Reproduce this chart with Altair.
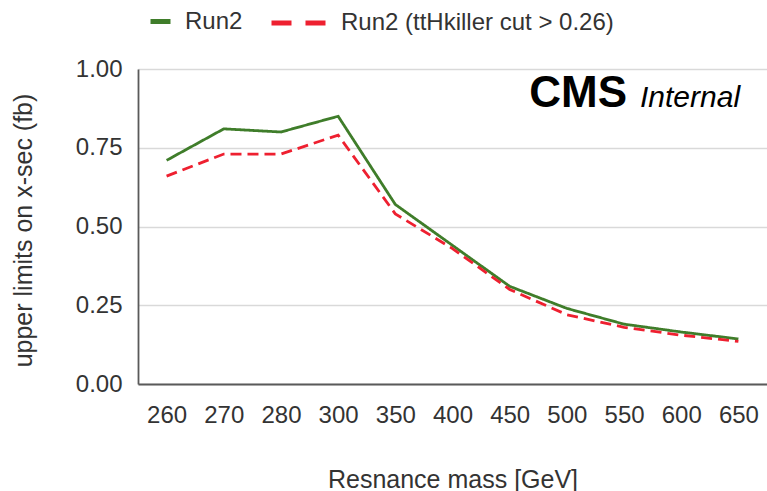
import altair as alt
import pandas as pd

# Resonance mass points (GeV) and expected upper limits (fb)
masses = ["260", "270", "280", "300", "350", "400", "450", "500", "550", "600", "650"]
run2 = [0.71, 0.81, 0.80, 0.85, 0.57, 0.44, 0.31, 0.24, 0.19, 0.165, 0.143]
run2_cut = [0.66, 0.73, 0.73, 0.79, 0.54, 0.43, 0.30, 0.22, 0.18, 0.155, 0.135]

series_names = ["Run2", "Run2 (ttHkiller cut > 0.26)"]
series_colors = ["#3f7d2a", "#ee2030"]

rows = []
for m, a, b in zip(masses, run2, run2_cut):
    rows.append({"mass": m, "limit": a, "series": series_names[0]})
    rows.append({"mass": m, "limit": b, "series": series_names[1]})
df = pd.DataFrame(rows)
df["key"] = df["series"]

FONT = "Liberation Sans"
TEXT = "#333333"

legend_common = dict(
    title=None,
    orient="none",
    direction="horizontal",
    symbolType="stroke",
    symbolStrokeWidth=5,
    symbolOpacity=1,
    labelFontSize=24,
    labelFont=FONT,
    labelColor=TEXT,
    labelLimit=400,
)

x_enc = alt.X(
    "mass:N",
    sort=masses,
    scale=alt.Scale(paddingInner=1, paddingOuter=0.5),
    axis=alt.Axis(
        title="Resnance mass [GeV]",
        labelAngle=0,
        ticks=False,
        grid=False,
        labelPadding=19,
        titleBaseline="alphabetic",
        titleY=103,
    ),
)
y_enc = alt.Y(
    "limit:Q",
    scale=alt.Scale(domain=[0, 1]),
    axis=alt.Axis(
        title="upper limits on x-sec (fb)",
        values=[0, 0.25, 0.5, 0.75, 1.0],
        format=".2f",
        ticks=False,
        labelPadding=16,
        titleAngle=270,
        titleBaseline="alphabetic",
        titleX=-107,
        titleY=161,
    ),
)

# the two limit curves
lines = alt.Chart(df).mark_line(strokeWidth=2.8).encode(
    x=x_enc,
    y=y_enc,
    color=alt.Color(
        "series:N",
        scale=alt.Scale(domain=series_names, range=series_colors),
        legend=alt.Legend(
            values=[series_names[0]],
            legendX=10,
            legendY=-60,
            symbolSize=400,
            labelOffset=12,
            **legend_common,
        ),
    ),
    strokeDash=alt.StrokeDash(
        "series:N",
        scale=alt.Scale(domain=series_names, range=[[1, 0], [11, 6]]),
        legend=None,
    ),
)

# legend entry for the dashed curve, with longer dashes in the key
dash_key = alt.Chart(df[df["series"] == series_names[1]]).mark_line(opacity=0).encode(
    x=alt.X("mass:N", sort=masses),
    y=alt.Y("limit:Q"),
    strokeDash=alt.StrokeDash(
        "key:N",
        scale=alt.Scale(domain=[series_names[1]], range=[[20, 14]]),
        legend=alt.Legend(
            legendX=131,
            legendY=-76,
            symbolSize=3025,
            labelOffset=12,
            symbolStrokeColor=series_colors[1],
            **legend_common,
        ),
    ),
)

cms = alt.Chart(pd.DataFrame({"t": ["CMS"]})).mark_text(
    font=FONT, fontSize=44, fontWeight="bold", align="right", baseline="alphabetic", color="#000000"
).encode(text="t:N", x=alt.value(489), y=alt.value(38))

internal = alt.Chart(pd.DataFrame({"t": ["Internal"]})).mark_text(
    font=FONT, fontSize=30, fontStyle="italic", align="left", baseline="alphabetic", color="#000000"
).encode(text="t:N", x=alt.value(502), y=alt.value(38))

chart = alt.layer(lines, dash_key, cms, internal).resolve_scale(
    strokeDash="independent"
).resolve_legend(
    strokeDash="independent"
).properties(
    width=629,
    height=315,
    autosize=alt.AutoSizeParams(type="none"),
    padding={"left": 138, "top": 69, "right": 0, "bottom": 107},
    background="white",
).configure_view(stroke=None).configure_axis(
    labelFont=FONT,
    titleFont=FONT,
    labelFontSize=24,
    titleFontSize=25,
    labelColor=TEXT,
    titleColor=TEXT,
    titleFontWeight="normal",
    domainColor="#5a5a5a",
    domainWidth=1.8,
    gridColor="#d9d9d9",
    gridWidth=1.3,
)

chart.save("out.html", embed_options={"renderer": "svg", "actions": False})
